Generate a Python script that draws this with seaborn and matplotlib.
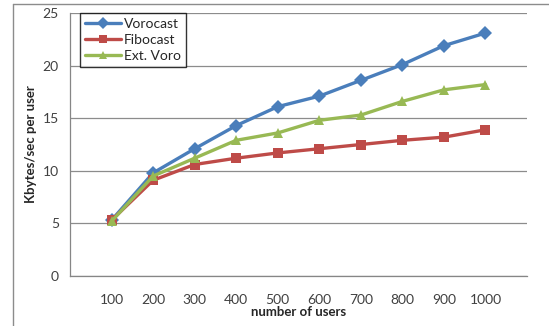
"""
Per-user bandwidth vs number of users for three multicast schemes.
"""

import pandas as pd
import seaborn as sns
import matplotlib.pyplot as plt
from matplotlib.lines import Line2D

users = [100, 200, 300, 400, 500, 600, 700, 800, 900, 1000]
vorocast = [5.3, 9.8, 12.1, 14.3, 16.1, 17.1, 18.6, 20.1, 21.9, 23.1]
fibocast = [5.3, 9.1, 10.6, 11.2, 11.7, 12.1, 12.5, 12.9, 13.2, 13.9]
ext_voro = [5.2, 9.5, 11.2, 12.9, 13.6, 14.8, 15.3, 16.6, 17.7, 18.2]

series = ["Vorocast", "Fibocast", "Ext. Voro"]
colors = {"Vorocast": "#4a7ebb", "Fibocast": "#be4b48", "Ext. Voro": "#98b954"}
markers = {"Vorocast": "D", "Fibocast": "s", "Ext. Voro": "^"}

sns.set_theme(style="white")
plt.rcParams["font.family"] = ["Lato", "DejaVu Sans"]


def build_frame():
    """ Stack the three series into one long dataframe. """
    rows = []
    for name, vals in zip(series, [vorocast, fibocast, ext_voro]):
        for i, (u, v) in enumerate(zip(users, vals)):
            rows.append({"pos": i + 1, "users": u, "rate": v,
                         "scheme": name})
    return pd.DataFrame(rows)


def main():
    data = build_frame()
    fig = plt.figure(figsize=(5.49, 3.26), dpi=100)
    ax = fig.add_axes([0.1275, 0.1534, 0.8325, 0.8066])

    sns.lineplot(data=data, x="pos", y="rate", hue="scheme", style="scheme",
                 palette=colors, markers=markers, dashes=False,
                 linewidth=2.4, markersize=7, markeredgewidth=0,
                 ax=ax, legend=False)

    ax.set_xlim(0, 11)
    ax.set_ylim(0, 25)
    ax.set_yticks(range(0, 26, 5))
    ax.set_xticks(range(0, 12))
    ax.set_xticklabels([""] + [str(u) for u in users] + [""])
    ax.tick_params(axis="both", labelsize=10, colors="#404040", length=3,
                   width=0.8, direction="out", pad=5)
    ax.tick_params(axis="x", pad=10)
    ax.tick_params(axis="both", color="#868686")
    ax.yaxis.grid(True, color="#8c8c8c", linewidth=0.9)
    ax.xaxis.grid(False)
    for side in ["top", "right"]:
        ax.spines[side].set_visible(False)
    for side in ["left", "bottom"]:
        ax.spines[side].set_color("#868686")
        ax.spines[side].set_linewidth(0.9)
    ax.set_axisbelow(True)

    ax.set_xlabel("number of users", fontsize=9.5, fontweight="bold",
                  color="#262626", labelpad=0)
    ax.set_ylabel("Kbytes/sec per user", fontsize=9.5, fontweight="bold",
                  color="#262626", labelpad=4)

    handles = [Line2D([0], [0], color=colors[s], marker=markers[s],
                      linewidth=2.4, markersize=6, markeredgewidth=0)
               for s in series]
    leg = ax.legend(handles, series, loc="upper left",
                    bbox_to_anchor=(0.022, 1.0), fontsize=10,
                    frameon=True, fancybox=False, handlelength=2.6,
                    handletextpad=0.2, borderpad=0.35, labelspacing=0.3,
                    borderaxespad=0.0)
    leg.get_frame().set_edgecolor("black")
    leg.get_frame().set_linewidth(1.0)

    # chart border (only left and top visible in the crop)
    fig.add_artist(Line2D([13 / 549, 13 / 549], [0, 1 - 4 / 326],
                          transform=fig.transFigure, color="#8c8c8c",
                          linewidth=1.0))
    fig.add_artist(Line2D([13 / 549, 1], [1 - 4 / 326, 1 - 4 / 326],
                          transform=fig.transFigure, color="#8c8c8c",
                          linewidth=1.0))

    plt.savefig("out.png", dpi=100)


if __name__ == "__main__":
    main()
